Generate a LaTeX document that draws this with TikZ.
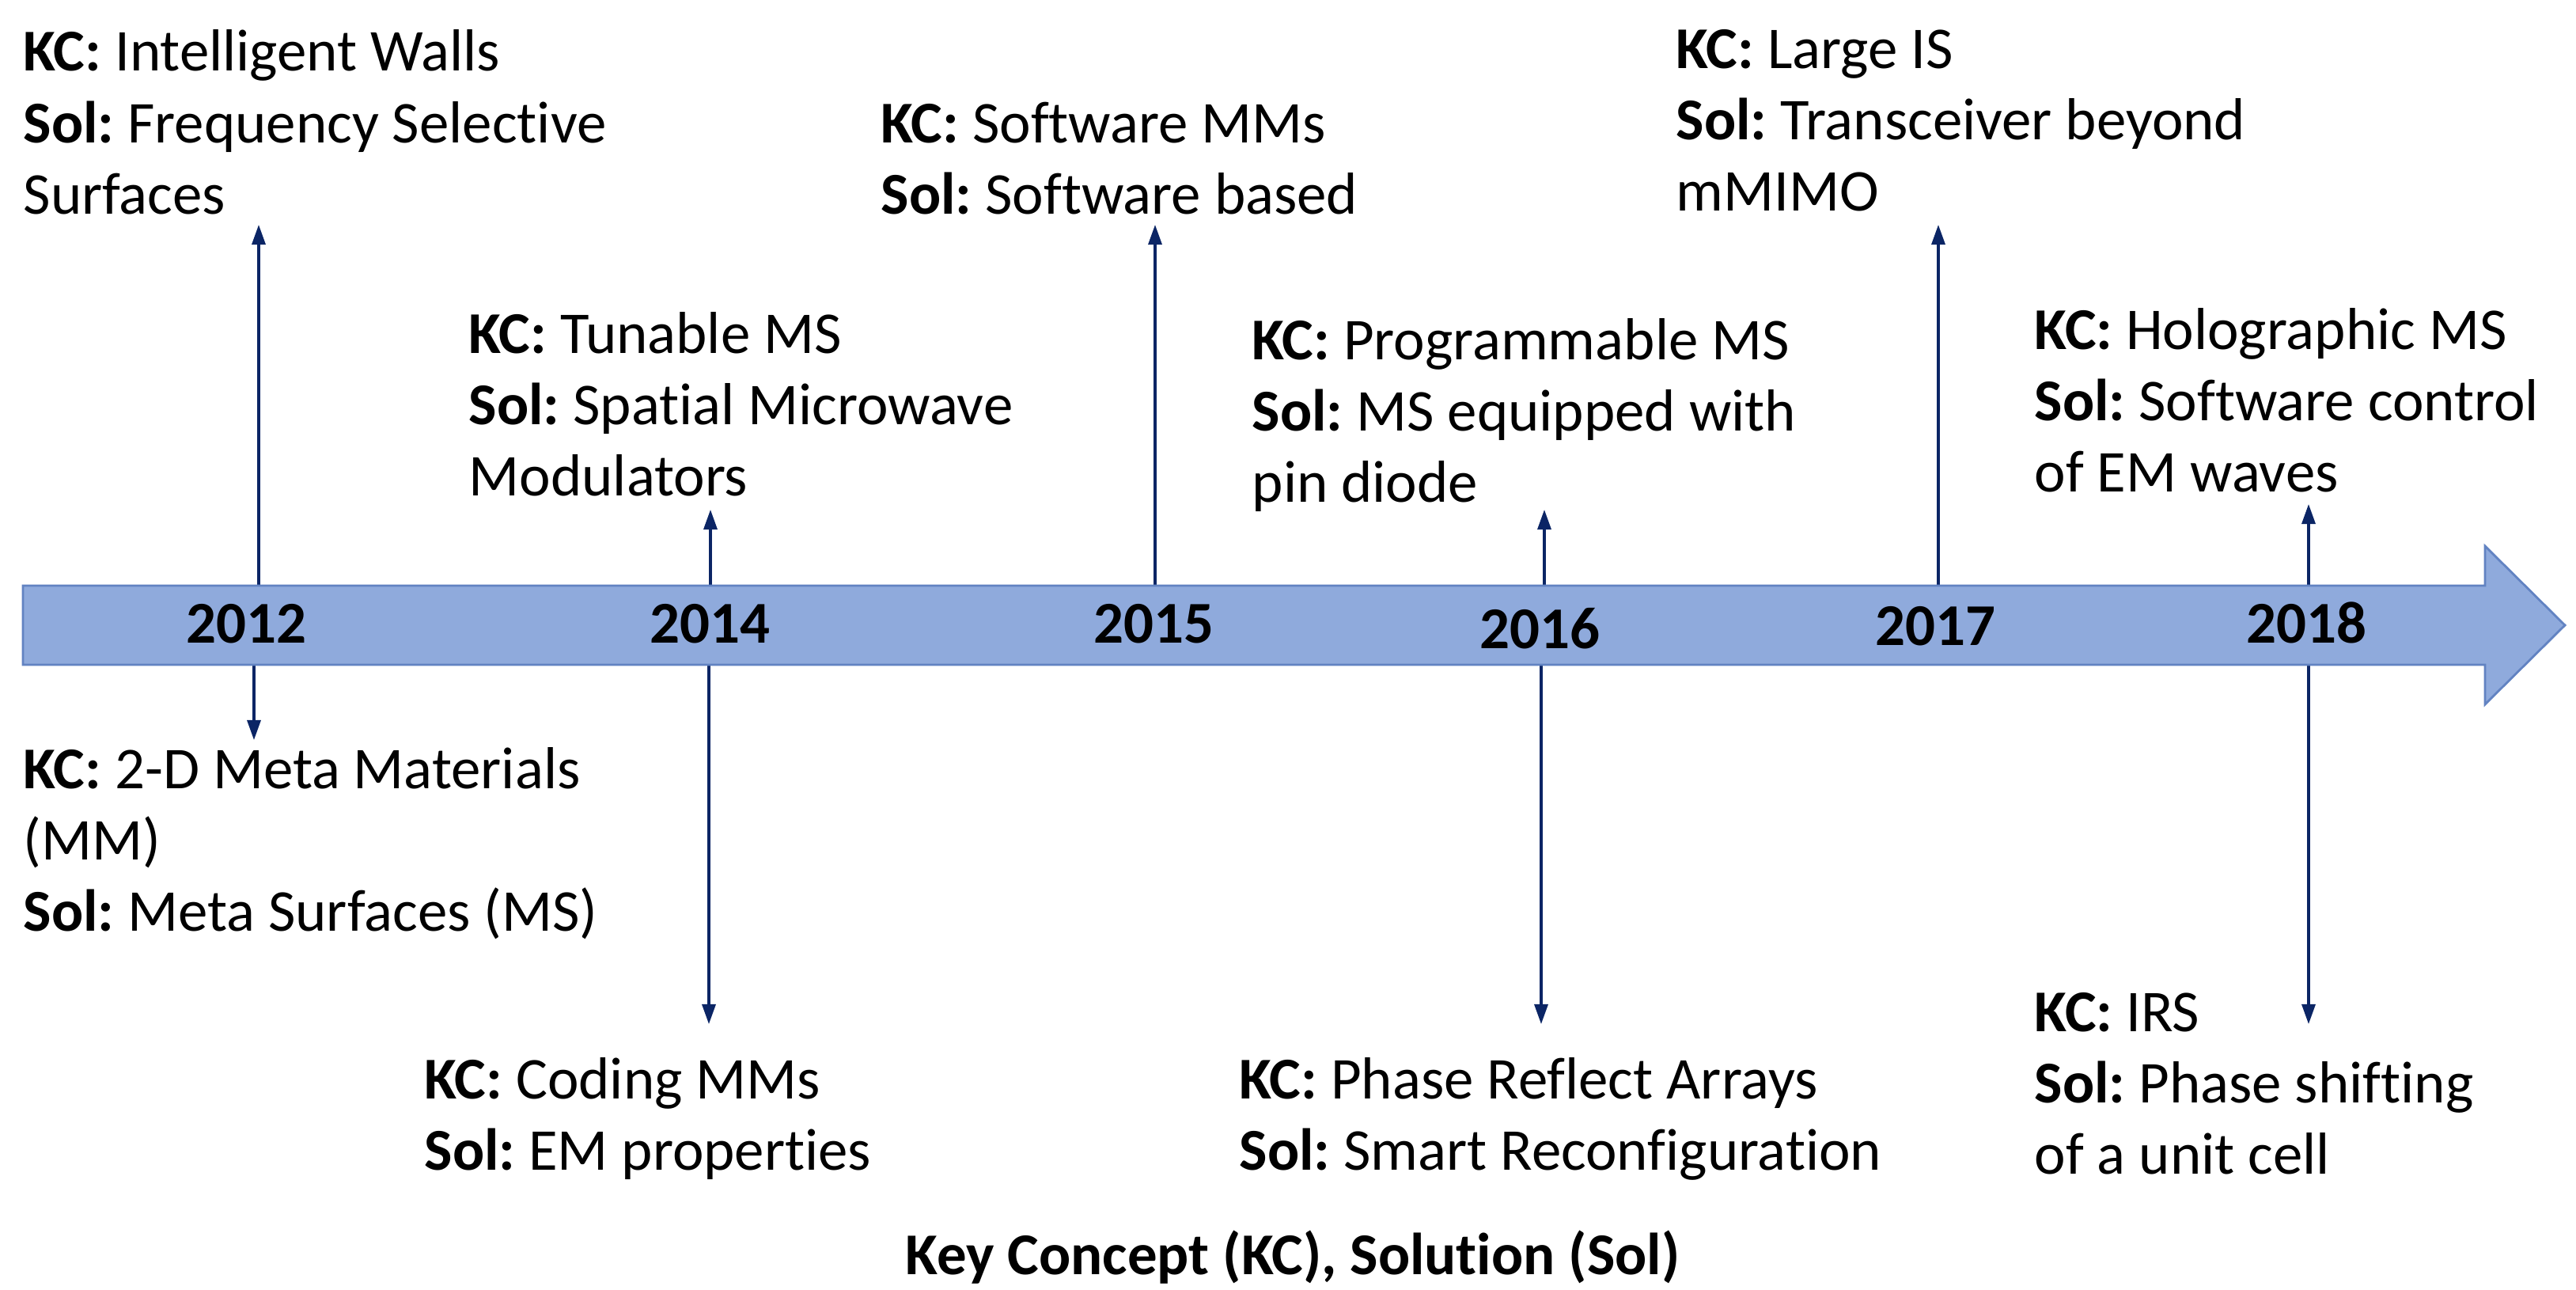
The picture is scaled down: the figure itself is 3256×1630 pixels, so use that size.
\documentclass[tikz,border=0pt]{standalone}
\usepackage{fontspec}
\setmainfont[Ligatures={TeX,NoCommon}]{Carlito}
\usetikzlibrary{arrows.meta}
\definecolor{bodyfill}{HTML}{8FAADC}
\definecolor{bodyline}{HTML}{6283C2}
\definecolor{navy}{HTML}{0B2565}
\newcommand{\blk}[1]{\begin{tabular}[t]{@{}l@{}}#1\end{tabular}}
\frenchspacing
\begin{document}
\begin{tikzpicture}[x=0.01cm,y=-0.01cm,
  txt/.style={anchor=base west,inner sep=0pt,font=\fontsize{21.3}{25.6}\selectfont},
  yr/.style={anchor=base,inner sep=0pt,font=\fontsize{21.3}{25.6}\selectfont\bfseries},
  conn/.style={draw=navy,line width=0.9pt,-{Triangle[width=0.17cm,length=0.25cm]}}]
\useasboundingbox (0,0) rectangle (3256,1630);
% connector endpoints
\coordinate (u12s) at (327,740);  \coordinate (u12e) at (327,284);
\coordinate (d12s) at (321,840);  \coordinate (d12e) at (321,935);
\coordinate (u14s) at (898,740);  \coordinate (u14e) at (898,644);
\coordinate (d14s) at (896,840);  \coordinate (d14e) at (896,1294);
\coordinate (u15s) at (1460,740); \coordinate (u15e) at (1460,284);
\coordinate (u16s) at (1952,740); \coordinate (u16e) at (1952,644);
\coordinate (d16s) at (1948,840); \coordinate (d16e) at (1948,1294);
\coordinate (u17s) at (2450,740); \coordinate (u17e) at (2450,284);
\coordinate (u18s) at (2918,740); \coordinate (u18e) at (2918,637);
\coordinate (d18s) at (2918,840); \coordinate (d18e) at (2918,1294);
\foreach \a in {u12,d12,u14,d14,u15,u16,d16,u17,u18,d18}
  \draw[conn] (\a s) -- (\a e);
% timeline arrow
\draw[fill=bodyfill,draw=bodyline,line width=0.8pt]
  (29,740) -- (3141,740) -- (3141,690) -- (3242,790) -- (3141,890) -- (3141,840) -- (29,840) -- cycle;
% years
\node[yr] (y12) at (311,812) {2012};
\node[yr] (y14) at (897,812) {2014};
\node[yr] (y15) at (1458,812) {2015};
\node[yr] (y16) at (1946,819) {2016};
\node[yr] (y17) at (2446,815) {2017};
\node[yr] (y18) at (2915,812) {2018};
% text blocks
\node[txt] (t1) at (29,90) {\blk{\textbf{KC:} Intelligent Walls\\ \textbf{Sol:} Frequency Selective\\ Surfaces}};
\node[txt] (t2) at (592,446) {\blk{\textbf{KC:} Tunable MS\\ \textbf{Sol:} Spatial Microwave\\ Modulators}};
\node[txt] (t3) at (1113,180) {\blk{\textbf{KC:} Software MMs\\ \textbf{Sol:} Software based}};
\node[txt] (t4) at (1582,454) {\blk{\textbf{KC:} Programmable MS\\ \textbf{Sol:} MS equipped with\\ pin diode}};
\node[txt] (t5) at (2118,86) {\blk{\textbf{KC:} Large IS\\ \textbf{Sol:} Transceiver beyond\\ mMIMO}};
\node[txt] (t6) at (2571,441) {\blk{\textbf{KC:} Holographic MS\\ \textbf{Sol:} Software control\\ of EM waves}};
\node[txt] (t7) at (29,996) {\blk{\textbf{KC:} 2-D Meta Materials\\ (MM)\\ \textbf{Sol:} Meta Surfaces (MS)}};
\node[txt] (t8) at (536,1388) {\blk{\textbf{KC:} Coding MMs\\ \textbf{Sol:} EM properties}};
\node[txt] (t9) at (1566,1388) {\blk{\textbf{KC:} Phase Reflect Arrays\\ \textbf{Sol:} Smart Reconfiguration}};
\node[txt] (t10) at (2571,1303) {\blk{\textbf{KC:} IRS\\ \textbf{Sol:} Phase shifting\\ of a unit cell}};
\node[yr] (cap) at (1634,1610) {Key Concept (KC), Solution (Sol)};
\end{tikzpicture}
\end{document}
